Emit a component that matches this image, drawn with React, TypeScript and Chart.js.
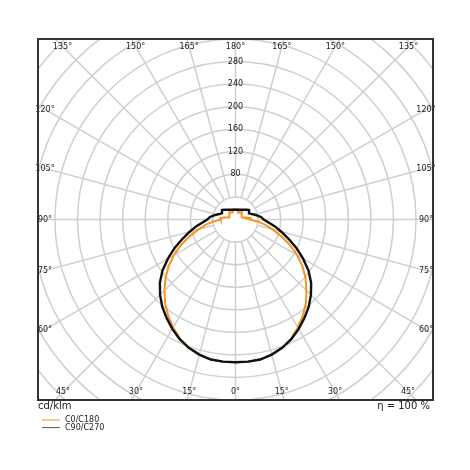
import React, { useEffect, useRef } from "react";
import { Chart, registerables } from "chart.js";

Chart.register(...registerables);

// Gamma angles (degrees from nadir)
const GAMMA = [0, 5, 10, 15, 20, 25, 30, 35, 40, 45, 50, 55, 60, 65, 70, 75, 80, 85, 90, 95, 100, 105, 110, 115, 120, 125, 130, 135, 140, 145, 150, 155, 160, 165, 170, 175, 180];

// Luminous intensity, cd/klm
const C0_C180 = [253, 253, 252, 248, 242, 233, 221, 208, 194, 178, 162, 145, 126, 106, 86, 68, 53, 39, 26, 27, 20, 13.7, 11, 11.6, 12.7, 13.5, 14.4, 15.6, 17, 15.2, 14.3, 13.7, 13.8, 18, 18.3, 18.3, 18.3];
const C90_C270 = [253, 253, 252, 248, 242, 234, 224, 213, 202, 189, 175, 158, 138, 119, 100, 84, 71, 58, 50, 46, 40, 34, 29, 26.5, 27.7, 29.3, 26.8, 24.3, 22.5, 21.1, 19.9, 19, 18.3, 17.8, 17.5, 17.3, 17.2];

const SERIES_NAMES = ["C0/C180", "C90/C270"];
const RADIAL_TICKS = [80, 120, 160, 200, 240, 280];
const GRID_STEP = 40;
const GRID_MAX = 480;
const ANGLE_STEP = 15;
const UNIT_LABEL = "cd/klm";
const ETA_LABEL = "η = 100 %";

const ORANGE = "#f7931e";
const BLACK = "#111111";
const FONT = '"DejaVu Sans", sans-serif';

function toPoints(vals: number[]) {
  const pts: { x: number; y: number }[] = [];
  for (let i = GAMMA.length - 1; i >= 0; i--) {
    const g = (GAMMA[i] * Math.PI) / 180;
    pts.push({ x: -vals[i] * Math.sin(g), y: -vals[i] * Math.cos(g) });
  }
  for (let i = 0; i < GAMMA.length; i++) {
    const g = (GAMMA[i] * Math.PI) / 180;
    pts.push({ x: vals[i] * Math.sin(g), y: -vals[i] * Math.cos(g) });
  }
  return pts;
}

const polarPlugin = {
  id: "polarGrid",
  beforeDatasetsDraw(chart: any) {
    const { ctx, chartArea: a, scales } = chart;
    const xs = scales.x;
    const ys = scales.y;
    const cx = xs.getPixelForValue(0);
    const cy = ys.getPixelForValue(0);
    const k = xs.getPixelForValue(1) - cx;
    ctx.save();
    ctx.beginPath();
    ctx.rect(a.left, a.top, a.right - a.left, a.bottom - a.top);
    ctx.clip();
    ctx.strokeStyle = "#cfcfcf";
    ctx.lineWidth = 1.5;
    for (let r = GRID_STEP; r <= GRID_MAX; r += GRID_STEP) {
      ctx.beginPath();
      ctx.arc(cx, cy, r * k, 0, Math.PI * 2);
      ctx.stroke();
    }
    for (let ang = 0; ang < 360; ang += ANGLE_STEP) {
      const t = (ang * Math.PI) / 180;
      const dx = Math.sin(t);
      const dy = Math.cos(t);
      ctx.beginPath();
      ctx.moveTo(cx + dx * GRID_STEP * k, cy + dy * GRID_STEP * k);
      ctx.lineTo(cx + dx * (GRID_MAX + 40) * k, cy + dy * (GRID_MAX + 40) * k);
      ctx.stroke();
    }
    ctx.fillStyle = "#222";
    ctx.font = "8px " + FONT;
    ctx.textAlign = "center";
    ctx.textBaseline = "middle";
    RADIAL_TICKS.forEach((v) => {
      ctx.fillText(String(v), cx, ys.getPixelForValue(v));
    });
    ctx.restore();
  },
  afterDraw(chart: any) {
    const { ctx, chartArea: a, scales } = chart;
    const cx = scales.x.getPixelForValue(0);
    const cy = scales.y.getPixelForValue(0);
    const L = a.left + 7;
    const R = a.right - 7;
    const T = a.top + 7.5;
    const B = a.bottom - 8;
    ctx.save();
    ctx.fillStyle = "#222";
    ctx.font = "8px " + FONT;
    ctx.textAlign = "center";
    ctx.textBaseline = "middle";
    [1, -1].forEach((side) => {
      for (let g = 0; g <= 180; g += ANGLE_STEP) {
        if (side < 0 && (g === 0 || g === 180)) continue;
        const t = (g * Math.PI) / 180;
        const dx = side * Math.sin(t);
        const dy = Math.cos(t);
        let s = Infinity;
        if (dx > 1e-9) s = Math.min(s, (R - cx) / dx);
        if (dx < -1e-9) s = Math.min(s, (L - cx) / dx);
        if (dy > 1e-9) s = Math.min(s, (B - cy) / dy);
        if (dy < -1e-9) s = Math.min(s, (T - cy) / dy);
        ctx.fillText(g + "°", cx + dx * s, cy + dy * s);
      }
    });
    // frame
    ctx.strokeStyle = "#333";
    ctx.lineWidth = 2;
    ctx.strokeRect(a.left, a.top, a.right - a.left, a.bottom - a.top);
    // bottom texts
    ctx.fillStyle = "#222";
    ctx.font = "10px " + FONT;
    ctx.textBaseline = "middle";
    ctx.textAlign = "left";
    ctx.fillText(UNIT_LABEL, a.left, a.bottom + 6.5);
    ctx.textAlign = "right";
    ctx.fillText(ETA_LABEL, a.right - 3, a.bottom + 6.5);
    // legend
    const colors = [ORANGE, "#555"];
    ctx.font = "8px " + FONT;
    ctx.textAlign = "left";
    SERIES_NAMES.forEach((name, i) => {
      const yy = a.bottom + 20 + i * 7.6;
      ctx.strokeStyle = colors[i];
      ctx.lineWidth = 1;
      ctx.beginPath();
      ctx.moveTo(a.left + 4, yy);
      ctx.lineTo(a.left + 22, yy);
      ctx.stroke();
      ctx.fillStyle = "#222";
      ctx.fillText(name, a.left + 27, yy);
    });
    ctx.restore();
  },
};

export default function App() {
  const ref = useRef<HTMLCanvasElement | null>(null);
  useEffect(() => {
    if (!ref.current) return;
    const chart = new Chart(ref.current, {
      type: "scatter",
      data: {
        datasets: [
          {
            label: SERIES_NAMES[1],
            data: toPoints(C90_C270),
            showLine: true,
            borderColor: BLACK,
            borderWidth: 2.4,
            pointRadius: 0,
            tension: 0,
            order: 0,
          },
          {
            label: SERIES_NAMES[0],
            data: toPoints(C0_C180),
            showLine: true,
            borderColor: ORANGE,
            borderWidth: 2,
            pointRadius: 0,
            tension: 0,
            order: 1,
          },
        ],
      },
      options: {
        responsive: false,
        devicePixelRatio: 1,
        animation: false,
        layout: { padding: { left: 38, right: 37, top: 39, bottom: 70 } },
        scales: {
          x: { type: "linear", min: -350, max: 350, display: false },
          y: { type: "linear", min: -320, max: 320, display: false },
        },
        plugins: { legend: { display: false }, tooltip: { enabled: false } },
      } as any,
      plugins: [polarPlugin],
    });
    return () => chart.destroy();
  }, []);
  return (
    <div style={{ position: "absolute", left: 0, top: 0, width: 470, height: 470, background: "#fff" }}>
      <canvas ref={ref} width={470} height={470} style={{ display: "block" }} />
    </div>
  );
}
